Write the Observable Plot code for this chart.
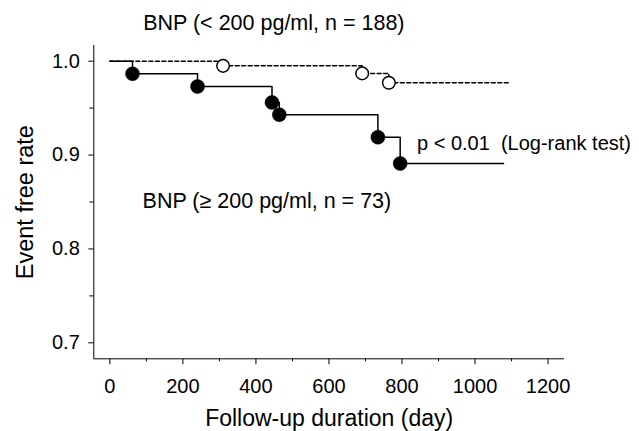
<!DOCTYPE html>
<html>
<head>
<meta charset="utf-8">
<script src="https://cdn.jsdelivr.net/npm/d3@7"></script>
<script src="https://cdn.jsdelivr.net/npm/@observablehq/plot@0.6"></script>
<style>
  html, body { margin: 0; padding: 0; background: #fff; }
  svg text { white-space: pre; }
</style>
</head>
<body>
<div id="chart"></div>
<script>
// ---- Data ----
// Low BNP group (< 200 pg/ml, n = 188) — dashed line, open circles
const lowEventDays = [310, 691, 764];
const lowEventSurv = [0.995, 0.987, 0.977];
const lowEndDay = 1092;

// High BNP group (>= 200 pg/ml, n = 73) — solid line, filled circles
const highEventDays = [62, 240, 444, 464, 734, 795];
const highEventSurv = [0.9866, 0.973, 0.956, 0.943, 0.919, 0.891];
const highEndDay = 1078;

// Axis ticks
const xMajorTicks = [0, 200, 400, 600, 800, 1000, 1200];
const xMinorTicks = [100, 300, 500, 700, 900, 1100];
const yMajorTicks = [0.7, 0.8, 0.9, 1.0];
const yMinorTicks = [0.75, 0.85, 0.95];

// Texts
const lowLabel = "BNP (< 200 pg/ml, n = 188)";
const highLabel = "BNP (\u2265 200 pg/ml, n = 73)";
const pLabel = "p < 0.01\u00a0 (Log-rank test)";
const xTitle = "Follow-up duration (day)";
const yTitle = "Event free rate";

// ---- Build step-curve tables ----
function curve(days, surv, end) {
  const pts = [{day: 0, s: 1}];
  days.forEach((d, i) => pts.push({day: d, s: surv[i]}));
  pts.push({day: end, s: surv[surv.length - 1]});
  return pts;
}
const lowCurve = curve(lowEventDays, lowEventSurv, lowEndDay);
const highCurve = curve(highEventDays, highEventSurv, highEndDay);
const lowEvents = lowEventDays.map((d, i) => ({day: d, s: lowEventSurv[i]}));
const highEvents = highEventDays.map((d, i) => ({day: d, s: highEventSurv[i]}));

const xDomain = [-44, 1245];
const yDomain = [0.683, 1.0167];
const font = "'Liberation Sans', Arial, Helvetica, sans-serif";

const chart = Plot.plot({
  width: 639,
  height: 431,
  marginLeft: 93.3,
  marginRight: 75,
  marginTop: 45,
  marginBottom: 72.7,
  style: {fontFamily: font, fontSize: "20px", color: "black", background: "white"},
  x: {domain: xDomain},
  y: {domain: yDomain},
  marks: [
    // axis lines (L-shaped frame)
    Plot.ruleX([xDomain[0]], {stroke: "black", strokeWidth: 1}),
    Plot.ruleY([yDomain[0]], {stroke: "black", strokeWidth: 1}),
    // x axis
    Plot.axisX({ticks: xMajorTicks, tickSize: 6, tickPadding: 14, fontSize: 20, label: null, tickFormat: d => String(d)}),
    Plot.axisX({ticks: xMinorTicks, tickSize: 3, label: null, tickFormat: () => ""}),
    // y axis
    Plot.axisY({ticks: yMajorTicks, tickSize: 5, tickPadding: 9, fontSize: 20, label: null, tickFormat: d => d.toFixed(1)}),
    Plot.axisY({ticks: yMinorTicks, tickSize: 4, label: null, tickFormat: () => ""}),
    // curves
    Plot.line(lowCurve, {x: "day", y: "s", curve: "step-after", stroke: "black", strokeWidth: 1.5, strokeDasharray: "4,2.5"}),
    Plot.line(highCurve, {x: "day", y: "s", curve: "step-after", stroke: "black", strokeWidth: 1.5}),
    Plot.dot(lowEvents, {x: "day", y: "s", r: 6.3, fill: "white", stroke: "black", strokeWidth: 1.5}),
    Plot.dot(highEvents, {x: "day", y: "s", r: 7, fill: "black", stroke: "black", strokeWidth: 0.5}),
    // annotations
    Plot.text([lowLabel], {x: 449, y: 1.0327, textAnchor: "middle", lineAnchor: "bottom", fontSize: 21.5}),
    Plot.text([highLabel], {x: 430, y: 0.8438, textAnchor: "middle", lineAnchor: "bottom", fontSize: 21.5}),
    Plot.text([pLabel], {x: 841, y: 0.9056, textAnchor: "start", lineAnchor: "bottom", fontSize: 20}),
    // axis titles
    Plot.text([xTitle], {frameAnchor: "bottom", dy: 67.5, textAnchor: "middle", lineAnchor: "bottom", fontSize: 23}),
    Plot.text([yTitle], {frameAnchor: "left", dx: -61.3, rotate: -90, textAnchor: "middle", lineAnchor: "bottom", fontSize: 23.5})
  ]
});
document.getElementById("chart").appendChild(chart);
</script>
</body>
</html>
